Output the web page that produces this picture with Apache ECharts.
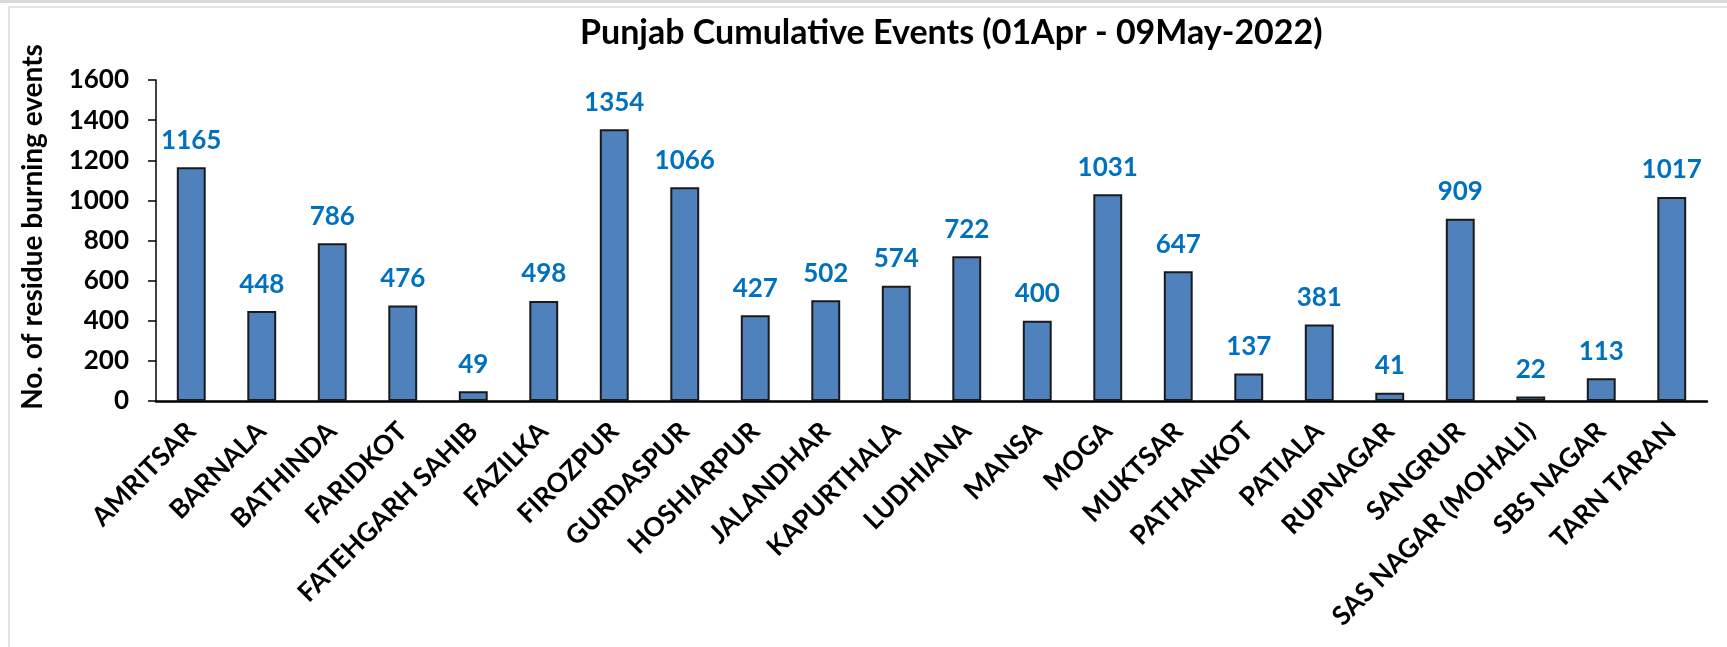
<!DOCTYPE html>
<html>
<head>
<meta charset="utf-8">
<script src="https://cdn.jsdelivr.net/npm/echarts@6/dist/echarts.min.js"></script>
<style>
  html, body { margin: 0; padding: 0; background: #fff; }
  #frame { position: absolute; left: 0; top: 0; width: 1727px; height: 3px; background: #d9d9d9; }
  #container { position: absolute; left: 0; top: 0; width: 1727px; height: 647px; }
  #edge { position: absolute; left: 8px; top: 6px; width: 1719px; height: 641px; border-left: 2px solid #e2e2e2; border-top: 2px solid #e2e2e2; box-sizing: border-box; }
</style>
</head>
<body>
<div id="frame"></div>
<div id="edge"></div>
<div id="container"></div>
<script>
var districts = ['AMRITSAR', 'BARNALA', 'BATHINDA', 'FARIDKOT', 'FATEHGARH SAHIB', 'FAZILKA',
    'FIROZPUR', 'GURDASPUR', 'HOSHIARPUR', 'JALANDHAR', 'KAPURTHALA', 'LUDHIANA', 'MANSA',
    'MOGA', 'MUKTSAR', 'PATHANKOT', 'PATIALA', 'RUPNAGAR', 'SANGRUR', 'SAS NAGAR (MOHALI)',
    'SBS NAGAR', 'TARN TARAN'];
var events = [1165, 448, 786, 476, 49, 498, 1354, 1066, 427, 502, 574, 722, 400,
    1031, 647, 137, 381, 41, 909, 22, 113, 1017];
var yTicks = [0, 200, 400, 600, 800, 1000, 1200, 1400, 1600];

var dom = document.getElementById("container");
var myChart = echarts.init(dom);
var font = 'Lato, "Open Sans", sans-serif';

var option = {
    animation: false,
    title: {
        text: 'Punjab Cumulative Events (01Apr - 09May-2022)',
        left: 580,
        top: 16,
        padding: 0,
        textStyle: {
            color: '#000',
            fontFamily: font,
            fontWeight: 'bold',
            fontSize: 34
        }
    },
    graphic: [{
        type: 'text',
        x: 33,
        y: 227,
        rotation: Math.PI / 2,
        style: {
            text: 'No. of residue burning events',
            fill: '#000',
            font: 'bold 28px ' + font,
            align: 'center',
            verticalAlign: 'middle'
        }
    }],
    grid: {
        left: 156,
        right: 20,
        top: 80,
        bottom: 246
    },
    xAxis: {
        type: 'category',
        data: districts,
        axisLine: { lineStyle: { color: '#000', width: 2.5 } },
        axisTick: { length: 9, lineStyle: { color: '#000', width: 2 } },
        axisLabel: {
            rotate: 45,
            interval: 0,
            margin: 26,
            color: '#000',
            fontFamily: font,
            fontWeight: 'bold',
            fontSize: 26.5
        }
    },
    yAxis: {
        type: 'value',
        min: yTicks[0],
        max: yTicks[yTicks.length - 1],
        interval: 200,
        splitLine: { show: false },
        axisLine: { show: true, lineStyle: { color: '#000', width: 1.5 } },
        axisTick: { show: true, length: 8, lineStyle: { color: '#000', width: 1.5 } },
        axisLabel: {
            margin: 27,
            color: '#000',
            fontFamily: font,
            fontWeight: 'bold',
            fontSize: 26,
            formatter: function (v) { return String(v); }
        }
    },
    series: [{
        type: 'bar',
        data: events,
        barCategoryGap: '59%',
        itemStyle: {
            color: '#4F81BD',
            borderColor: '#1a1a1a',
            borderWidth: 2
        },
        label: {
            show: true,
            position: 'top',
            distance: 14,
            color: '#0070C0',
            fontFamily: font,
            fontWeight: 'bold',
            fontSize: 26
        }
    }]
};
myChart.setOption(option);
</script>
</body>
</html>
